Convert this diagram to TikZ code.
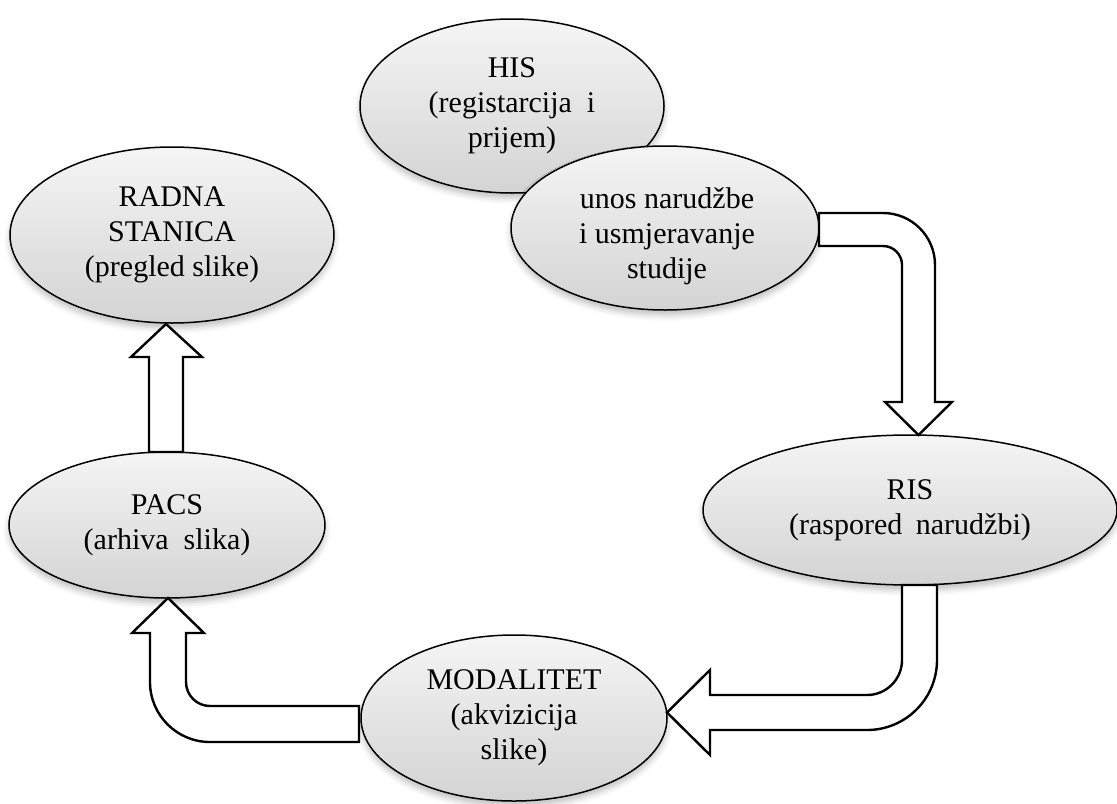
\documentclass[tikz,border=0pt]{standalone}
\usepackage{fontspec}
\setmainfont{Liberation Serif}
\usetikzlibrary{shapes.geometric,shadows.blur}
\newcommand{\dsp}{\hspace{0.5em}}
\begin{document}
\begin{tikzpicture}[x=0.5pt,y=-0.5pt,
  bub/.style={ellipse, draw=black, line width=0.75pt, top color=gray!8, bottom color=gray!34,
    inner sep=0pt, align=center, font=\fontsize{15}{17.5}\selectfont,
    blur shadow={shadow xshift=0pt, shadow yshift=-2.5pt, shadow blur radius=3pt, shadow opacity=25}},
  lbl/.style={align=center, inner sep=0pt, font=\fontsize{15}{17.5}\selectfont},
  blockarrow/.style={draw=black, fill=white, line width=1.2pt, line join=miter}]
\useasboundingbox (0,0) rectangle (1117,803);

% ellipses
\node[bub, minimum width=152pt, minimum height=87pt] (his) at (512,106)
  {HIS\\(registarcija\dsp i\\prijem)};
\node[bub, minimum width=154pt, minimum height=82pt] (unos) at (665,228) {};
\node[lbl] (unostext) at (667,236) {unos narudžbe\\i usmjeravanje\\studije};
\node[bub, minimum width=162pt, minimum height=88pt] (radna) at (172,235)
  {RADNA\\STANICA\\(pregled slike)};
\node[bub, minimum width=158pt, minimum height=73pt] (pacs) at (167,525)
  {PACS\\(arhiva\dsp slika)};
\node[bub, minimum width=207pt, minimum height=75pt] (ris) at (910,510)
  {RIS\\(raspored\hspace{0.45em}narudžbi)};
\node[bub, minimum width=153pt, minimum height=83pt] (mod) at (514,718)
  {MODALITET\\(akvizicija\\slike)};

% block arrows
% unos -> RIS
\draw[blockarrow] (819,213) -- (883,213) arc[start angle=90, end angle=0, radius=26pt]
  -- (935,402) -- (952,402) -- (918.5,435) -- (885,402) -- (902,402) -- (902,265)
  arc[start angle=0, end angle=90, radius=9.5pt] -- (819,246) -- cycle;
% RIS -> MODALITET
\draw[blockarrow] (902,585) -- (902,660) arc[start angle=0, end angle=-90, radius=17.5pt]
  -- (710,695) -- (710,670) -- (667,712.5) -- (710,755) -- (710,730) -- (867,730)
  arc[start angle=-90, end angle=0, radius=35pt] -- (937,585) -- cycle;
% MODALITET -> PACS
\draw[blockarrow] (359,706) -- (210,706) arc[start angle=-90, end angle=-180, radius=12pt]
  -- (186,633) -- (204,633) -- (168,598) -- (132,633) -- (150,633) -- (150,682)
  arc[start angle=180, end angle=270, radius=30pt] -- (359,742) -- cycle;
% PACS -> RADNA STANICA
\draw[blockarrow] (149,452) -- (149,357) -- (131,357) -- (166,324) -- (202,357) -- (183,357)
  -- (183,452) -- cycle;
\end{tikzpicture}
\end{document}
